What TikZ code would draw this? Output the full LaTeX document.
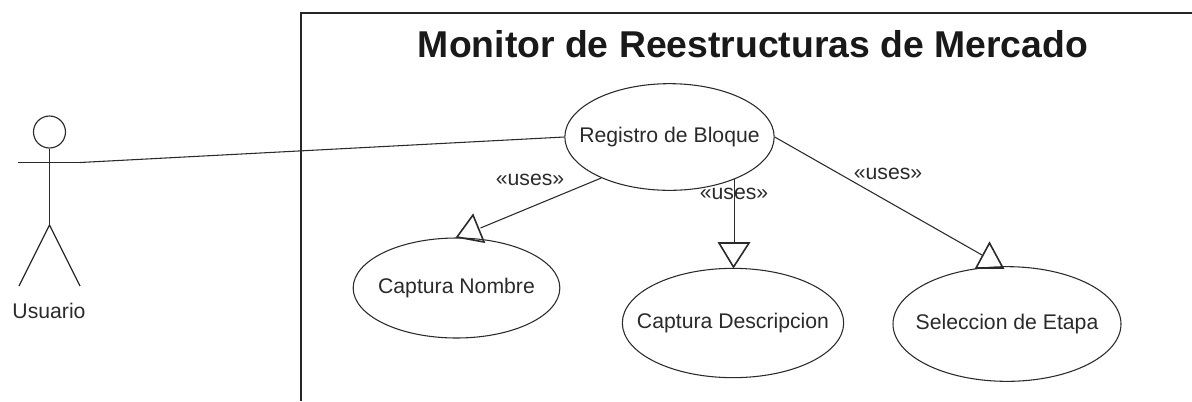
\documentclass[tikz,border=0pt]{standalone}
\usepackage{fontspec}
\setmainfont{Liberation Sans}
\usetikzlibrary{shapes.geometric}
\definecolor{ink}{HTML}{2A2A2A}
\newcommand{\uctext}[1]{\makebox[0pt][c]{\raisebox{-1pt}{#1}}}
\tikzset{
  usecase/.style={ellipse,draw=ink,line width=0.8pt,inner sep=0pt,text=ink,font=\fontsize{15.9}{18}\selectfont},
  label/.style={inner sep=0pt,text=ink,font=\fontsize{15.9}{18}\selectfont},
  link/.style={draw=ink,line width=0.8pt},
  frameline/.style={draw=black!85,line width=1pt},
  arrowhead/.style={draw=ink,line width=1.2pt,line join=miter},
  limb/.style={draw=ink,line width=0.85pt}
}
\begin{document}
\begin{tikzpicture}[x=0.75pt,y=-0.75pt]
\useasboundingbox (0,0) rectangle (1192,401);
% system boundary
\coordinate (ftop) at (1192,13);
\coordinate (fcorner) at (301,13);
\coordinate (fbot) at (301,401);
\draw[frameline] (ftop) -- (fcorner) -- (fbot);
\node[inner sep=0pt,text=black!90] (title) at (753,44) {\fontsize{28}{32}\selectfont\bfseries Monitor de Reestructuras de Mercado};
% use cases
\node[usecase,minimum width=157pt,minimum height=80pt] (reg) at (669.5,137) {\uctext{Registro de Bloque}};
\node[usecase,minimum width=155pt,minimum height=75pt] (nom) at (456.5,288) {\uctext{Captura Nombre}};
\node[usecase,minimum width=166pt,minimum height=82pt] (des) at (733,323) {\uctext{Captura Descripcion}};
\node[usecase,minimum width=171pt,minimum height=86pt] (sel) at (1007,324) {\uctext{Seleccion de Etapa}};
% actor
\node[circle,draw=ink,line width=0.85pt,minimum size=24pt,inner sep=0pt] (head) at (49.5,132) {};
\coordinate (armL) at (18,162.5);
\coordinate (armR) at (80,162.5);
\coordinate (hip) at (49.5,225);
\coordinate (footL) at (19,286);
\coordinate (footR) at (80,286);
\draw[limb] (head.south) -- (hip);
\draw[limb] (armL) -- (armR);
\draw[limb] (footL) -- (hip) -- (footR);
\node[label] (usr) at (49,311) {Usuario};
% association
\draw[link] (armR) -- (reg.west);
% uses arrows: triangles
\coordinate (a1t) at (473,215); \coordinate (a1l) at (457,237); \coordinate (a1r) at (484,242);
\coordinate (a1m) at (480.5,228);
\coordinate (a2t) at (733.5,267); \coordinate (a2l) at (719,243); \coordinate (a2r) at (749,243);
\coordinate (a2m) at (734,243);
\coordinate (a3t) at (989.5,243); \coordinate (a3l) at (976,268); \coordinate (a3r) at (1003,268);
\coordinate (a3m) at (982,255);
\coordinate (r1) at (reg.211);
\coordinate (r2) at (reg.-33);
\draw[link] (r1) -- (a1m);
\draw[link] (r2) -- (r2 |- a2m);
\draw[link] (reg.east) -- (a3m);
\draw[arrowhead] (a1t) -- (a1l) -- (a1r) -- cycle;
\draw[arrowhead] (a2t) -- (a2l) -- (a2r) -- cycle;
\draw[arrowhead] (a3t) -- (a3l) -- (a3r) -- cycle;
% labels
\node[label] (u1) at (530,179.5) {«uses»};
\node[label] (u2) at (734,193.5) {«uses»};
\node[label] (u3) at (888,173.5) {«uses»};
\end{tikzpicture}
\end{document}
